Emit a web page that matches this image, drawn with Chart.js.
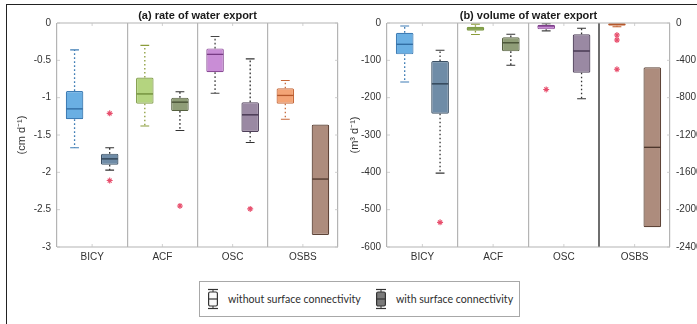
<!DOCTYPE html>
<html>
<head>
<meta charset="utf-8">
<script src="https://cdn.jsdelivr.net/npm/chart.js@4.4.1/dist/chart.umd.min.js"></script>
<style>
  html, body { margin: 0; padding: 0; background: #fff; }
  #page { position: relative; width: 697px; height: 324px; overflow: hidden; background: #fff; }
  #frame { position: absolute; left: 6px; top: 4px; width: 720px; height: 340px;
           border-left: 1.5px solid #222; border-top: 1.5px solid #222; }
  canvas { position: absolute; top: 0; }
  #cRate { left: 0; }
  #cVol { left: 345px; }
  #legend { position: absolute; left: 199px; top: 281px; width: 321px; height: 36px;
            border: 1px solid #a8a8a8; box-sizing: border-box; background: #fff;
            font-family: Lato, "Open Sans", sans-serif; font-size: 10.6px; color: #2e2e2e; }
  .item { position: absolute; top: 0; height: 34px; display: flex; align-items: center; }
  .item svg { margin-right: 9px; }
</style>
</head>
<body>
<div id="page">
  <div id="frame"></div>
  <canvas id="cRate" width="345" height="272"></canvas>
  <canvas id="cVol" width="352" height="272"></canvas>
  <div id="legend">
    <div class="item" style="left:7px">
      <svg width="12" height="22" viewBox="0 0 12 22">
        <line x1="1" y1="1.5" x2="11" y2="1.5" stroke="#333" stroke-width="1.2"/>
        <line x1="6" y1="1.5" x2="6" y2="4" stroke="#333" stroke-width="1"/>
        <rect x="1.6" y="4" width="8.8" height="14" rx="1.5" fill="#fafafa" stroke="#333" stroke-width="1.2"/>
        <line x1="1.6" y1="11" x2="10.4" y2="11" stroke="#333" stroke-width="1.2"/>
        <line x1="6" y1="18" x2="6" y2="20.5" stroke="#333" stroke-width="1"/>
        <line x1="1" y1="20.5" x2="11" y2="20.5" stroke="#333" stroke-width="1.2"/>
      </svg>
      <span>without surface connectivity</span>
    </div>
    <div class="item" style="left:175px">
      <svg width="12" height="22" viewBox="0 0 12 22">
        <line x1="1" y1="1.5" x2="11" y2="1.5" stroke="#333" stroke-width="1.2"/>
        <line x1="6" y1="1.5" x2="6" y2="4" stroke="#333" stroke-width="1"/>
        <rect x="1.6" y="4" width="8.8" height="14" rx="1.5" fill="#7a7a7a" stroke="#333" stroke-width="1.2"/>
        <line x1="1.6" y1="11" x2="10.4" y2="11" stroke="#333" stroke-width="1.2"/>
        <line x1="6" y1="18" x2="6" y2="20.5" stroke="#333" stroke-width="1"/>
        <line x1="1" y1="20.5" x2="11" y2="20.5" stroke="#333" stroke-width="1.2"/>
      </svg>
      <span>with surface connectivity</span>
    </div>
  </div>
</div>
<script>
// Sites on the category axis
const sites = ['BICY', 'ACF', 'OSC', 'OSBS'];

// Box statistics per site: [lower whisker, Q1, median, Q3, upper whisker]
// (a) rate of water export, cm d-1
const rateWithout = [
  [-1.67, -1.29, -1.15, -0.91, -0.36],
  [-1.38, -1.08, -0.95, -0.73, -0.30],
  [-0.94, -0.66, -0.42, -0.34, -0.18],
  [-1.29, -1.08, -0.97, -0.875, -0.77]
];
const rateWith = [
  [-1.97, -1.90, -1.82, -1.75, -1.67],
  [-1.44, -1.18, -1.06, -1.00, -0.92],
  [-1.60, -1.46, -1.23, -1.06, -0.48],
  [-2.84, -2.84, -2.09, -1.36, -1.36]
];
const rateWithoutOutliers = [[], [], [], []];
const rateWithOutliers = [[-1.21, -2.11], [-2.45], [-2.49], []];

// (b) volume of water export, m3 d-1 (OSBS is read on the right-hand axis)
const volWithout = [
  [-158, -84, -57, -26, -8],
  [-31, -21, -16, -10, -3],
  [-21, -17, -8, -4.5, -2],
  [-40, -29, -14, -3, 0]
];
const volWith = [
  [-402, -243, -163, -102, -73],
  [-113, -76, -53, -38, -30],
  [-203, -133, -75, -30, -14],
  [-2189, -2189, -1332, -475, -475]
];
const volWithoutOutliers = [[], [], [-178], [-129, -182, -496]];
const volWithOutliers = [[-534], [], [], []];

// Axis ticks
const rateTicks = [0, -0.5, -1, -1.5, -2, -2.5, -3];
const volTicks = [0, -100, -200, -300, -400, -500, -600];
const volRightTicks = [0, -400, -800, -1200, -1600, -2000, -2400];

// Colours: box fill, box edge, median line, whisker
const fillWithout = ['#6aafe3', '#b4d47f', '#c98dd6', '#f3a476'];
const edgeWithout = ['#3f7db5', '#809c48', '#8b4c97', '#c66a3c'];
const medWithout  = ['#2f6aa0', '#6c8a36', '#783b84', '#b4582c'];
const whiskWithout = ['#3f7db5', '#8a9c3a', '#444', '#c66a3c'];
const fillWith = ['#6f8ca7', '#8f9d77', '#9a89a3', '#ad8c7d'];
const edgeWith = ['#3a4f63', '#55603f', '#4f405a', '#5e4438'];
const medWith  = ['#2b3d4f', '#434c30', '#3d2f48', '#4a342a'];
const whiskWith = ['#333', '#333', '#333', '#333'];

const FONT = '"Liberation Sans", Arial, sans-serif';
const TXT = '#333';
const AXIS_GREY = '#b4b4b4';

function only(arr, keep) { return arr.map((v, i) => keep.includes(i) ? v : null); }

function boxDataset(label, stats, outliers, fill, edge, med, whisk, axisId) {
  return {
    label,
    data: stats.map(s => s ? [s[1], s[3]] : null),
    stats, outliers,
    backgroundColor: fill, borderColor: edge,
    medianColor: med, whiskerColor: whisk,
    borderWidth: 1.2, borderSkipped: false, borderRadius: 1.5,
    categoryPercentage: 1.0, barPercentage: 0.5,
    skipNull: true,
    yAxisID: axisId
  };
}

// Whiskers, caps, medians and outlier markers drawn on top of the floating bars
const boxDecor = {
  id: 'boxDecor',
  afterDatasetsDraw(chart) {
    const ctx = chart.ctx;
    chart.data.datasets.forEach((ds, di) => {
      const meta = chart.getDatasetMeta(di);
      const ys = chart.scales[ds.yAxisID];
      ds.stats.forEach((s, i) => {
        if (!s) return;
        const bar = meta.data[i];
        const x = bar.x, w = bar.width;
        const [lo, q1, md, q3, hi] = s.map(v => ys.getPixelForValue(v));
        const wc = ds.whiskerColor[i];
        ctx.save();
        ctx.strokeStyle = wc;
        ctx.lineWidth = 1.3;
        ctx.setLineDash([1.6, 2.4]);
        ctx.beginPath();
        if (hi < q3 - 0.5) { ctx.moveTo(x, q3); ctx.lineTo(x, hi); }
        if (lo > q1 + 0.5) { ctx.moveTo(x, q1); ctx.lineTo(x, lo); }
        ctx.stroke();
        ctx.setLineDash([]);
        ctx.lineWidth = 1.1;
        ctx.beginPath();
        if (hi < q3 - 0.5) { ctx.moveTo(x - w * 0.25, hi); ctx.lineTo(x + w * 0.25, hi); }
        if (lo > q1 + 0.5) { ctx.moveTo(x - w * 0.25, lo); ctx.lineTo(x + w * 0.25, lo); }
        ctx.stroke();
        // median
        ctx.strokeStyle = ds.medianColor[i];
        ctx.lineWidth = 1.3;
        ctx.beginPath();
        ctx.moveTo(x - w / 2 + 0.6, md); ctx.lineTo(x + w / 2 - 0.6, md);
        ctx.stroke();
        // outliers
        ctx.strokeStyle = '#e8506e';
        ctx.lineWidth = 1.1;
        (ds.outliers[i] || []).forEach(v => {
          const y = ys.getPixelForValue(v);
          ctx.beginPath();
          ctx.moveTo(x - 3, y); ctx.lineTo(x + 3, y);
          ctx.moveTo(x, y - 3); ctx.lineTo(x, y + 3);
          ctx.moveTo(x - 2, y - 2); ctx.lineTo(x + 2, y + 2);
          ctx.moveTo(x - 2, y + 2); ctx.lineTo(x + 2, y - 2);
          ctx.stroke();
        });
        ctx.restore();
      });
    });
  }
};

// Panel frame, inner tick marks and panel title
const panelFrame = {
  id: 'panelFrame',
  afterDraw(chart, args, opts) {
    const { ctx, chartArea: a } = chart;
    ctx.save();
    ctx.strokeStyle = AXIS_GREY;
    ctx.lineWidth = 1.2;
    ctx.beginPath();
    ctx.moveTo(a.left, a.top); ctx.lineTo(a.right, a.top);
    ctx.moveTo(a.left, a.bottom); ctx.lineTo(a.right, a.bottom);
    ctx.stroke();
    ctx.lineWidth = 0.8;
    ctx.strokeStyle = '#c4c4c4';
    ctx.beginPath();
    const xs = chart.scales.x;
    xs.ticks.forEach((t, i) => {
      const px = xs.getPixelForTick(i);
      ctx.moveTo(px, a.top); ctx.lineTo(px, a.top + 3);
      ctx.moveTo(px, a.bottom); ctx.lineTo(px, a.bottom - 3);
    });
    Object.values(chart.scales).forEach(s => {
      if (s.axis !== 'y') return;
      s.ticks.forEach((t, i) => {
        const py = s.getPixelForTick(i);
        if (s.position === 'left') {
          ctx.moveTo(a.left, py); ctx.lineTo(a.left + 3, py);
          if (opts.mirror) { ctx.moveTo(a.right, py); ctx.lineTo(a.right - 3, py); }
        } else {
          ctx.moveTo(a.right, py); ctx.lineTo(a.right - 3, py);
        }
      });
    });
    ctx.stroke();
    ctx.fillStyle = '#1a1a1a';
    ctx.font = 'bold 11px ' + FONT;
    ctx.textAlign = 'center';
    ctx.textBaseline = 'middle';
    ctx.fillText(opts.title, (a.left + a.right) / 2, 16);
    ctx.restore();
  }
};

function yAxis(ticksArr, width, pos, titleText, titlePad) {
  return {
    type: 'linear', position: pos,
    min: Math.min(...ticksArr), max: Math.max(...ticksArr),
    afterBuildTicks: s => { s.ticks = ticksArr.map(v => ({ value: v })); },
    afterFit: s => { s.width = width; },
    grid: { display: false, drawTicks: false },
    border: { display: false },
    ticks: { color: TXT, font: { family: FONT, size: 10 }, padding: 6,
             callback: v => String(v) },
    title: { display: !!titleText, text: titleText || '', color: TXT,
             font: { family: FONT, size: 11 }, padding: { top: titlePad || 0, bottom: 0 } }
  };
}

function xAxis(dividerColor) {
  return {
    type: 'category',
    afterFit: s => { s.height = 25; },
    grid: { offset: true, drawTicks: false, color: dividerColor, lineWidth: ctx => ctx.index === 3 && dividerColor !== AXIS_GREY ? 2 : 1.2 },
    border: { display: false },
    ticks: { color: TXT, font: { family: FONT, size: 10 }, padding: 4 }
  };
}

const common = {
  responsive: false, animation: false, devicePixelRatio: 1,
  events: []
};

new Chart(document.getElementById('cRate'), {
  type: 'bar',
  data: {
    labels: sites,
    datasets: [
      boxDataset('without surface connectivity', rateWithout, rateWithoutOutliers,
                 fillWithout, edgeWithout, medWithout, whiskWithout, 'y'),
      boxDataset('with surface connectivity', rateWith, rateWithOutliers,
                 fillWith, edgeWith, medWith, whiskWith, 'y')
    ]
  },
  options: {
    ...common,
    layout: { padding: { left: 8, right: 7, top: 23, bottom: 0 } },
    scales: {
      x: xAxis(AXIS_GREY),
      y: yAxis(rateTicks, 49, 'left', '(cm d\u207B\u00B9)', 7)
    },
    plugins: {
      legend: { display: false }, tooltip: { enabled: false },
      panelFrame: { title: '(a) rate of water export', mirror: true }
    }
  },
  plugins: [boxDecor, panelFrame]
});

const volLeft = [0, 1, 2];
const volRight = [3];
new Chart(document.getElementById('cVol'), {
  type: 'bar',
  data: {
    labels: sites,
    datasets: [
      boxDataset('without surface connectivity', only(volWithout, volLeft), volWithoutOutliers,
                 fillWithout, edgeWithout, medWithout, whiskWithout, 'y'),
      boxDataset('with surface connectivity', only(volWith, volLeft), volWithOutliers,
                 fillWith, edgeWith, medWith, whiskWith, 'y'),
      boxDataset('without surface connectivity', only(volWithout, volRight), volWithoutOutliers,
                 fillWithout, edgeWithout, medWithout, whiskWithout, 'y2'),
      boxDataset('with surface connectivity', only(volWith, volRight), volWithOutliers,
                 fillWith, edgeWith, medWith, whiskWith, 'y2')
    ]
  },
  options: {
    ...common,
    layout: { padding: { left: 0, right: 0, top: 23, bottom: 0 } },
    scales: {
      x: xAxis(ctx => ctx.index === 3 ? '#6e6e6e' : AXIS_GREY),
      y: yAxis(volTicks, 42, 'left', '(m\u00B3 d\u207B\u00B9)', 3),
      y2: yAxis(volRightTicks, 27, 'right', '')
    },
    plugins: {
      legend: { display: false }, tooltip: { enabled: false },
      panelFrame: { title: '(b) volume of water export', mirror: false }
    }
  },
  plugins: [boxDecor, panelFrame]
});
</script>
</body>
</html>
